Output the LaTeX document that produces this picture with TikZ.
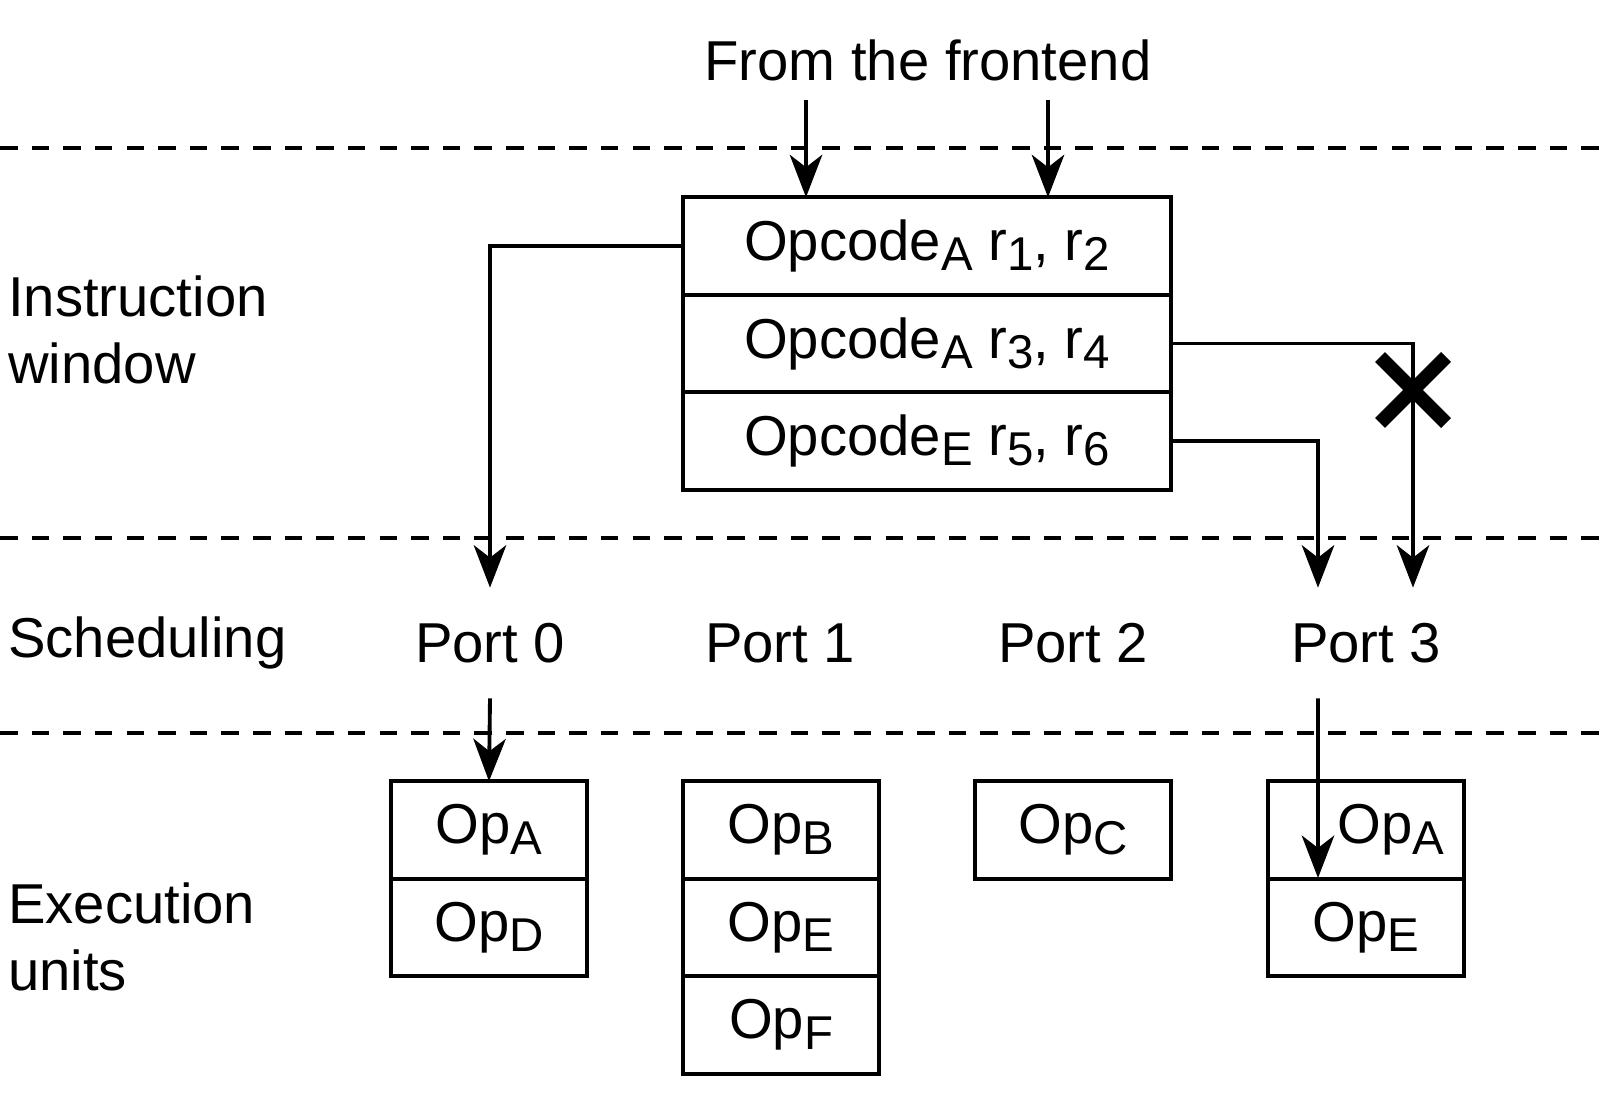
\documentclass[tikz,border=0pt]{standalone}
\usepackage{fontspec}
\setmainfont{Liberation Sans}
\usetikzlibrary{arrows.meta,positioning}

\newcommand\lowr[1]{\raisebox{-0.35ex}{\fontsize{27}{30}\selectfont #1}}

\tikzset{
  lbl/.style={font=\fontsize{32}{38}\selectfont},
  cell/.style={draw, line width=2.2pt, outer sep=0pt, minimum width=9.76cm, minimum height=1.95cm, font=\fontsize{32}{38}\selectfont},
  unit/.style={draw, line width=2.2pt, outer sep=0pt, minimum width=3.92cm, minimum height=1.95cm, font=\fontsize{32}{38}\selectfont},
  port/.style={font=\fontsize{32}{38}\selectfont, minimum width=3.2cm, minimum height=2.2cm},
  sep/.style={dashed, line width=1.8pt, dash pattern=on 10pt off 8pt},
  flow/.style={line width=2.2pt, -{Stealth[length=0.85cm,width=0.65cm,inset=0.25cm]}}
}

\begin{document}
\begin{tikzpicture}[x=0.02cm, y=-0.02cm]
\useasboundingbox (0,0) rectangle (1610,1105);

% separators
\draw[sep] (0,148) -- (1610,148);
\draw[sep] (0,538) -- (1610,538);
\draw[sep] (0,733) -- (1610,733);

% stage labels
\node[lbl, anchor=west, align=left] (iw) at (2,330) {Instruction\\window};
\node[lbl, anchor=west] (sch) at (2,643) {Scheduling};
\node[lbl, anchor=west, align=left] (eu) at (2,937) {Execution\\units};

% instruction window
\node[lbl] (front) at (928,60) {From the frontend};
\node[cell] (r1) at (927,246) {Opcode\lowr{A} r\lowr{1}, r\lowr{2}};
\node[cell, below=0pt of r1] (r2) {Opcode\lowr{A} r\lowr{3}, r\lowr{4}};
\node[cell, below=0pt of r2] (r3) {Opcode\lowr{E} r\lowr{5}, r\lowr{6}};
\coordinate (in1) at (806,100);
\coordinate (in2) at (1048,100);
\draw[flow] (in1) -- (in1 |- r1.north);
\draw[flow] (in2) -- (in2 |- r1.north);

% ports
\node[port] (p0) at (490,643) {Port 0};
\node[port] (p1) at (780,643) {Port 1};
\node[port] (p2) at (1073,643) {Port 2};
\node[port] (p3) at (1366,643) {Port 3};

\draw[flow] (r1.west) -| (p0.north);
\draw[flow] (r3.east) -| ([xshift=-0.96cm]p3.north);
\draw[flow] (r2.east) -| ([xshift=0.94cm]p3.north);
\draw[line width=0.28cm] (1380,357) -- (1446,423) (1380,423) -- (1446,357);

% execution units
\node[unit] (a0) at (489,830) {Op\lowr{A}};
\node[unit, below=0pt of a0] (d0) {Op\lowr{D}};
\node[unit] (b1) at (781,830) {Op\lowr{B}};
\node[unit, below=0pt of b1] (e1) {Op\lowr{E}};
\node[unit, below=0pt of e1] (f1) {Op\lowr{F}};
\node[unit] (c2) at (1073,830) {Op\lowr{C}};
\node[unit] (a3) at (1366,830) {\hspace{1cm}Op\lowr{A}};
\node[unit, below=0pt of a3] (e3) {Op\lowr{E}};

\coordinate (hit3) at (1318,878);
\draw[flow] (p0.south) -- (a0.north);
\draw[flow] ([xshift=-0.96cm]p3.south) -- (hit3);
\end{tikzpicture}
\end{document}
